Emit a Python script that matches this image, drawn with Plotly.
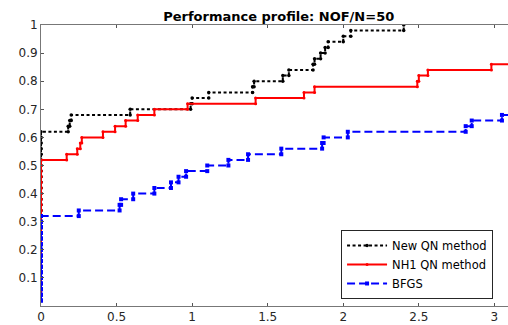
import plotly.graph_objects as go

# Performance profile data: log2 performance ratios of solved problems (50 problems)
N_PROBLEMS = 50
new_qn = [0.0] * 31 + [0.18, 0.19, 0.20, 0.59, 0.99, 1.00, 1.11, 1.40, 1.41,
                       1.60, 1.64, 1.80, 1.81, 1.85, 1.88, 1.90, 2.00, 2.05, 2.40]
nh1_qn = [0.0] * 26 + [0.17, 0.24, 0.26, 0.27, 0.41, 0.49, 0.56, 0.64, 0.75,
                       0.97, 1.42, 1.74, 1.81, 2.49, 2.50, 2.56, 2.98]
bfgs = [0.0] * 16 + [0.25, 0.52, 0.53, 0.61, 0.75, 0.86, 0.91, 0.96, 1.10,
                     1.24, 1.37, 1.59, 1.86, 1.87, 2.03, 2.81, 2.85, 3.05]

names = ["New QN method", "NH1 QN method", "BFGS"]
x_ticks = [0, 0.5, 1, 1.5, 2, 2.5, 3]
y_ticks = [0.1, 0.2, 0.3, 0.4, 0.5, 0.6, 0.7, 0.8, 0.9, 1.0]
X_RANGE = [0, 3.09]
X_EXTEND = 3.3


def stairs(vals, n, extend=None):
    v = sorted(vals)
    xs, ys = [], []
    for i, x in enumerate(v):
        y = (i + 1) / n
        if i > 0:
            xs.append(x)
            ys.append(ys[-1])
        xs.append(x)
        ys.append(y)
    if extend is not None and len(v) < n:
        xs.append(extend)
        ys.append(ys[-1])
    return xs, ys


styles = [
    dict(color="#000000", dash="3px,2.5px", symbol="circle", msize=3.5),
    dict(color="#ff0000", dash="solid", symbol="circle", msize=3),
    dict(color="#0000ff", dash="8px,4px", symbol="square", msize=4),
]

fig = go.Figure()
for data, name, st in zip([new_qn, nh1_qn, bfgs], names, styles):
    xs, ys = stairs(data, N_PROBLEMS, X_EXTEND)
    fig.add_trace(go.Scatter(
        x=xs, y=ys, name=name, mode="lines+markers",
        line=dict(color=st["color"], width=2, dash=st["dash"]),
        marker=dict(color=st["color"], size=st["msize"], symbol=st["symbol"]),
    ))

axis_font = dict(family="DejaVu Sans", size=12, color="#262626")
fig.update_layout(
    width=508, height=325,
    margin=dict(l=41, r=0, t=25, b=19),
    paper_bgcolor="white", plot_bgcolor="white",
    title=dict(text="<b>Performance profile: NOF/N=50</b>",
               font=dict(family="DejaVu Sans", size=13, color="#000000"),
               xref="paper", x=0.509, xanchor="center",
               yref="container", y=1 - 16 / 325, yanchor="middle"),
    showlegend=True,
    legend=dict(x=0.968, y=0.025, xanchor="right", yanchor="bottom",
                bgcolor="white", bordercolor="#262626", borderwidth=1,
                font=dict(family="DejaVu Sans", size=11.5, color="#000000"),
                tracegroupgap=0, itemwidth=40),
    xaxis=dict(range=X_RANGE, tickvals=x_ticks, ticktext=[f"{t:g}" for t in x_ticks],
               ticks="inside", ticklen=3, tickcolor="#555555",
               showline=True, linecolor="#777777", linewidth=1, mirror="ticks",
               showgrid=False, zeroline=False, tickfont=axis_font),
    yaxis=dict(range=[0, 1], tickvals=y_ticks, ticktext=[f"{t:g}" for t in y_ticks],
               ticks="inside", ticklen=3, tickcolor="#555555",
               showline=True, linecolor="#777777", linewidth=1,
               showgrid=False, zeroline=False, tickfont=axis_font),
)

fig.write_html("out.html", config={"displayModeBar": False},
               post_script="document.body.style.margin='0';document.body.style.overflow='hidden';")
